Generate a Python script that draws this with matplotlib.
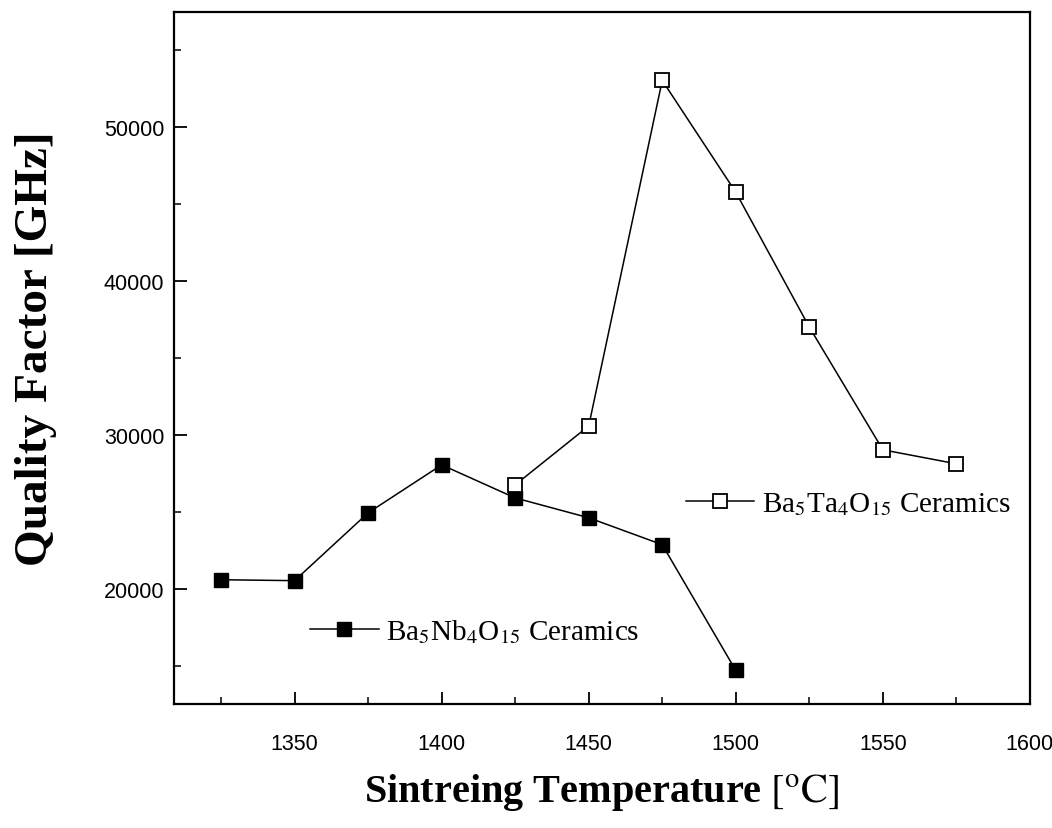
import matplotlib
matplotlib.use("Agg")
import matplotlib.pyplot as plt
from matplotlib.ticker import MultipleLocator

# Data
nb_temp = [1325, 1350, 1375, 1400, 1425, 1450, 1475, 1500]
nb_q = [20580, 20520, 24930, 28050, 25900, 24610, 22860, 14680]
ta_temp = [1425, 1450, 1475, 1500, 1525, 1550, 1575]
ta_q = [26750, 30580, 53050, 45780, 37010, 29030, 28120]
nb_label = r'Ba$_5$Nb$_4$O$_{15}$ Ceramics'
ta_label = r'Ba$_5$Ta$_4$O$_{15}$ Ceramics'
x_ticks = [1350, 1400, 1450, 1500, 1550, 1600]
y_ticks = [20000, 30000, 40000, 50000]

plt.rcParams['mathtext.fontset'] = 'stix'

fig = plt.figure(figsize=(10.52, 8.29), dpi=100)
ax = fig.add_axes([0.1654, 0.1496, 0.8136, 0.8347])

nb_line, = ax.plot(nb_temp, nb_q, color='black', lw=1.1, marker='s', ms=10,
                   mfc='black', mec='black', label=nb_label)
ta_line, = ax.plot(ta_temp, ta_q, color='black', lw=1.1, marker='s', ms=10,
                   mfc='white', mec='black', mew=1.3, label=ta_label)

ax.set_xlim(1309, 1600)
ax.set_ylim(12500, 57500)
ax.set_xticks(x_ticks)
ax.set_yticks(y_ticks)
ax.xaxis.set_minor_locator(MultipleLocator(25))
ax.yaxis.set_minor_locator(MultipleLocator(5000))
ax.tick_params(which='both', direction='in', top=False, right=False)
ax.tick_params(which='major', length=9, width=1.3, labelsize=15.5)
ax.tick_params(axis='x', which='major', pad=21)
ax.tick_params(axis='y', which='major', pad=7)
ax.tick_params(which='minor', length=5, width=1.1)
for lab in ax.get_xticklabels() + ax.get_yticklabels():
    lab.set_fontfamily('Liberation Sans')
for s in ax.spines.values():
    s.set_linewidth(1.6)

ax.set_xlabel(r'Sintreing Temperature $\left[^{\mathrm{o}}\mathrm{C}\right]$',
              fontfamily='Liberation Serif', fontweight='bold', fontsize=29)
ax.set_ylabel('Quality Factor [GHz]', fontfamily='Liberation Serif',
              fontweight='bold', fontsize=34)
ax.xaxis.set_label_coords(0.5, -0.097)
ax.yaxis.set_label_coords(-0.137, 0.515)

leg1 = ax.legend(handles=[nb_line], loc='center left', bbox_to_anchor=(0.159, 0.1055),
                 frameon=False, borderaxespad=0, borderpad=0, handlelength=2.35,
                 handletextpad=0.25, prop={'family': 'Liberation Serif', 'size': 21})
ax.add_artist(leg1)
ax.legend(handles=[ta_line], loc='center left', bbox_to_anchor=(0.598, 0.289),
          frameon=False, borderaxespad=0, borderpad=0, handlelength=2.35,
          handletextpad=0.25, prop={'family': 'Liberation Serif', 'size': 21})

fig.savefig('out.png', dpi=100)
